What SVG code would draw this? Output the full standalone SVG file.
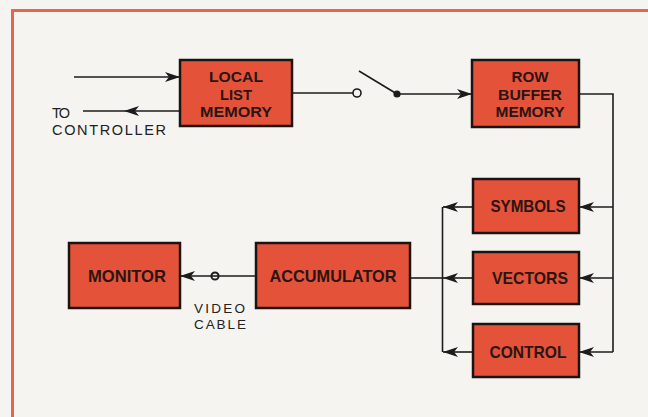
<svg xmlns="http://www.w3.org/2000/svg" width="648" height="417" viewBox="0 0 648 417">
<style>
.bg{fill:#f5f4f0}
.frame{fill:none;stroke:#e8674c;stroke-width:3}
.box{fill:#e5523a;stroke:#1c1412;stroke-width:2.5}
.bt{font-family:"Liberation Sans",Arial,sans-serif;font-weight:bold;font-size:15.5px;fill:#2a1512;text-anchor:middle}
.bt1{font-size:17px}
.lbl{font-family:"Liberation Sans",Arial,sans-serif;font-size:14.5px;fill:#222}
.lbs{font-size:13.5px}
.ln{fill:none;stroke:#1c1c1c;stroke-width:1.6}
</style>
<defs>
<marker id="ah" markerUnits="userSpaceOnUse" markerWidth="16" markerHeight="12" viewBox="-15 -6 16 12" refX="0" refY="0" orient="auto">
<path d="M0,0 L-15,-5 L-11,0 L-15,5 Z" fill="#1c1c1c"/>
</marker>
</defs>
<rect class="bg" x="0" y="0" width="648" height="417"/>
<path class="frame" d="M12.5,417 L12.5,10.5 L648,10.5"/>
<g id="connectors">
<path class="ln" d="M74,77 L180,77" marker-end="url(#ah)"/>
<path class="ln" d="M180,111 L124,111 L83,111" marker-mid="url(#ah)"/>
<path class="ln" d="M292,93 L353,93"/>
<circle cx="357" cy="93" r="4" fill="#f5f4f0" stroke="#1c1c1c" stroke-width="1.6"/>
<path class="ln" d="M359,71 L397,94"/>
<circle cx="397" cy="94" r="3.6" fill="#1c1c1c"/>
<path class="ln" d="M397,94 L472,94" marker-end="url(#ah)"/>
<path class="ln" d="M579,94 L613,94 L613,352"/>
<path class="ln" d="M613,207 L579,207" marker-end="url(#ah)"/>
<path class="ln" d="M613,278 L579,278" marker-end="url(#ah)"/>
<path class="ln" d="M613,352 L579,352" marker-end="url(#ah)"/>
<path class="ln" d="M473,207 L443,207" marker-end="url(#ah)"/>
<path class="ln" d="M473,278 L443,278" marker-end="url(#ah)"/>
<path class="ln" d="M473,352 L443,352" marker-end="url(#ah)"/>
<path class="ln" d="M442.5,207 L442.5,352"/>
<path class="ln" d="M410,278 L442,278"/>
<path class="ln" d="M256,276 L180,276" marker-end="url(#ah)"/>
<circle cx="215" cy="276" r="3.6" fill="#f5f4f0" stroke="#1c1c1c" stroke-width="2"/>
<path class="ln" d="M211,276 L219,276"/>
</g>
<g id="local-list-memory">
<rect class="box" x="180" y="60" width="112" height="66"/>
<text class="bt" x="236" y="82" textLength="54" lengthAdjust="spacingAndGlyphs">LOCAL</text>
<text class="bt" x="236" y="99.5" textLength="32" lengthAdjust="spacingAndGlyphs">LIST</text>
<text class="bt" x="236" y="117" textLength="72" lengthAdjust="spacingAndGlyphs">MEMORY</text>
</g>
<g id="row-buffer-memory">
<rect class="box" x="472" y="60" width="107" height="67"/>
<text class="bt" x="530" y="82" textLength="37" lengthAdjust="spacingAndGlyphs">ROW</text>
<text class="bt" x="530" y="99.5" textLength="64" lengthAdjust="spacingAndGlyphs">BUFFER</text>
<text class="bt" x="530" y="117" textLength="69" lengthAdjust="spacingAndGlyphs">MEMORY</text>
</g>
<g id="symbols">
<rect class="box" x="473" y="179" width="106" height="54"/>
<text class="bt bt1" x="528" y="212" textLength="75" lengthAdjust="spacingAndGlyphs">SYMBOLS</text>
</g>
<g id="vectors">
<rect class="box" x="473" y="252" width="106" height="52"/>
<text class="bt bt1" x="530" y="284" textLength="76" lengthAdjust="spacingAndGlyphs">VECTORS</text>
</g>
<g id="control">
<rect class="box" x="473" y="324" width="106" height="53"/>
<text class="bt bt1" x="528" y="358" textLength="77" lengthAdjust="spacingAndGlyphs">CONTROL</text>
</g>
<g id="accumulator">
<rect class="box" x="256" y="243" width="154" height="65"/>
<text class="bt bt1" x="333" y="282" textLength="127" lengthAdjust="spacingAndGlyphs">ACCUMULATOR</text>
</g>
<g id="monitor">
<rect class="box" x="69" y="243" width="111" height="65"/>
<text class="bt bt1" x="127" y="282" textLength="78" lengthAdjust="spacingAndGlyphs">MONITOR</text>
</g>
<g id="labels">
<text class="lbl" x="52" y="118" textLength="18" lengthAdjust="spacing">TO</text>
<text class="lbl" x="52" y="135" textLength="114" lengthAdjust="spacing">CONTROLLER</text>
<text class="lbl lbs" x="194" y="313" textLength="51" lengthAdjust="spacing">VIDEO</text>
<text class="lbl lbs" x="194" y="329" textLength="52" lengthAdjust="spacing">CABLE</text>
</g>
</svg>
